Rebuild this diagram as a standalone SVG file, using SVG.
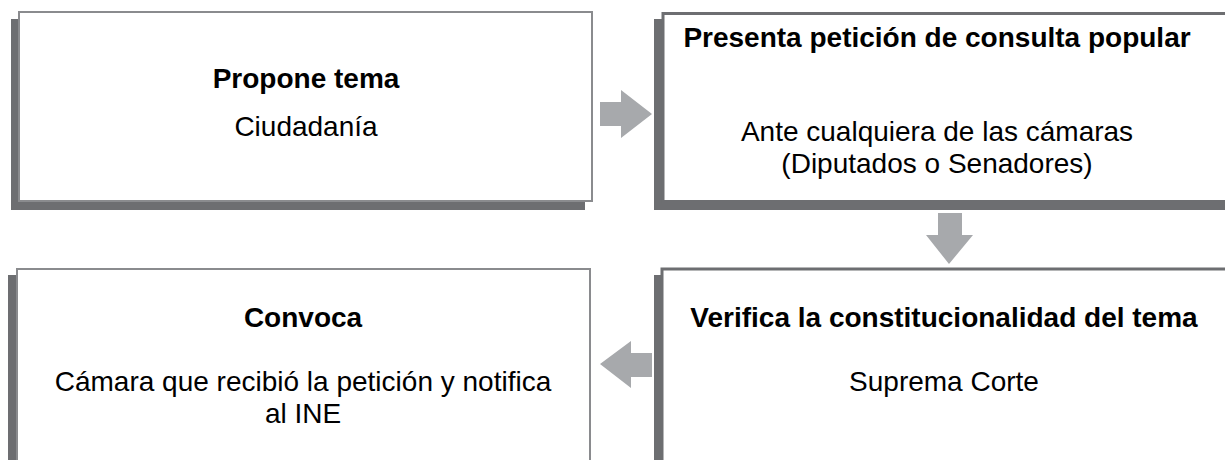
<svg xmlns="http://www.w3.org/2000/svg" width="1225" height="460" viewBox="0 0 1225 460">
<style>
  .shadow { fill: #6d6e71; }
  .box { fill: #ffffff; stroke: #8a8b8e; stroke-width: 2; }
  .boxd { fill: #ffffff; stroke: #6d6e71; stroke-width: 3; }
  .arrow { fill: #a7a9ac; }
  text { font-family: "Liberation Sans", Arial, Helvetica, sans-serif; font-size: 28px; fill: #000; text-anchor: middle; }
  .title { font-weight: bold; }
</style>
<rect width="1225" height="460" fill="#ffffff"/>
<g id="node-propone">
  <rect class="shadow" x="11" y="19" width="574" height="191"/>
  <rect class="box" x="19" y="12" width="573" height="189"/>
  <text class="title" x="306" y="88">Propone tema</text>
  <text x="306" y="136">Ciudadanía</text>
</g>
<g id="node-presenta">
  <rect class="shadow" x="654" y="19" width="580" height="191"/>
  <rect class="boxd" x="663" y="13.5" width="580" height="188"/>
  <text class="title" x="937" y="47">Presenta petición de consulta popular</text>
  <text x="937" y="141">Ante cualquiera de las cámaras</text>
  <text x="937" y="173">(Diputados o Senadores)</text>
</g>
<g id="node-convoca">
  <rect class="shadow" x="8" y="275" width="574" height="200"/>
  <rect class="box" x="17" y="269" width="573" height="200"/>
  <text class="title" x="303" y="327">Convoca</text>
  <text x="303" y="391">Cámara que recibió la petición y notifica</text>
  <text x="303" y="423">al INE</text>
</g>
<g id="node-verifica">
  <rect class="shadow" x="654" y="275" width="580" height="200"/>
  <rect class="boxd" x="662" y="269" width="580" height="200"/>
  <text class="title" x="944" y="327">Verifica la constitucionalidad del tema</text>
  <text x="944" y="391">Suprema Corte</text>
</g>
<g id="connectors">
  <polygon class="arrow" points="600,102 621,102 621,90 652,114 621,138 621,126 600,126"/>
  <polygon class="arrow" points="938,213 962,213 962,235 973,235 949,264 926,235 938,235"/>
  <polygon class="arrow" points="652,353 631,353 631,341 600,364 631,388 631,377 652,377"/>
</g>
</svg>
